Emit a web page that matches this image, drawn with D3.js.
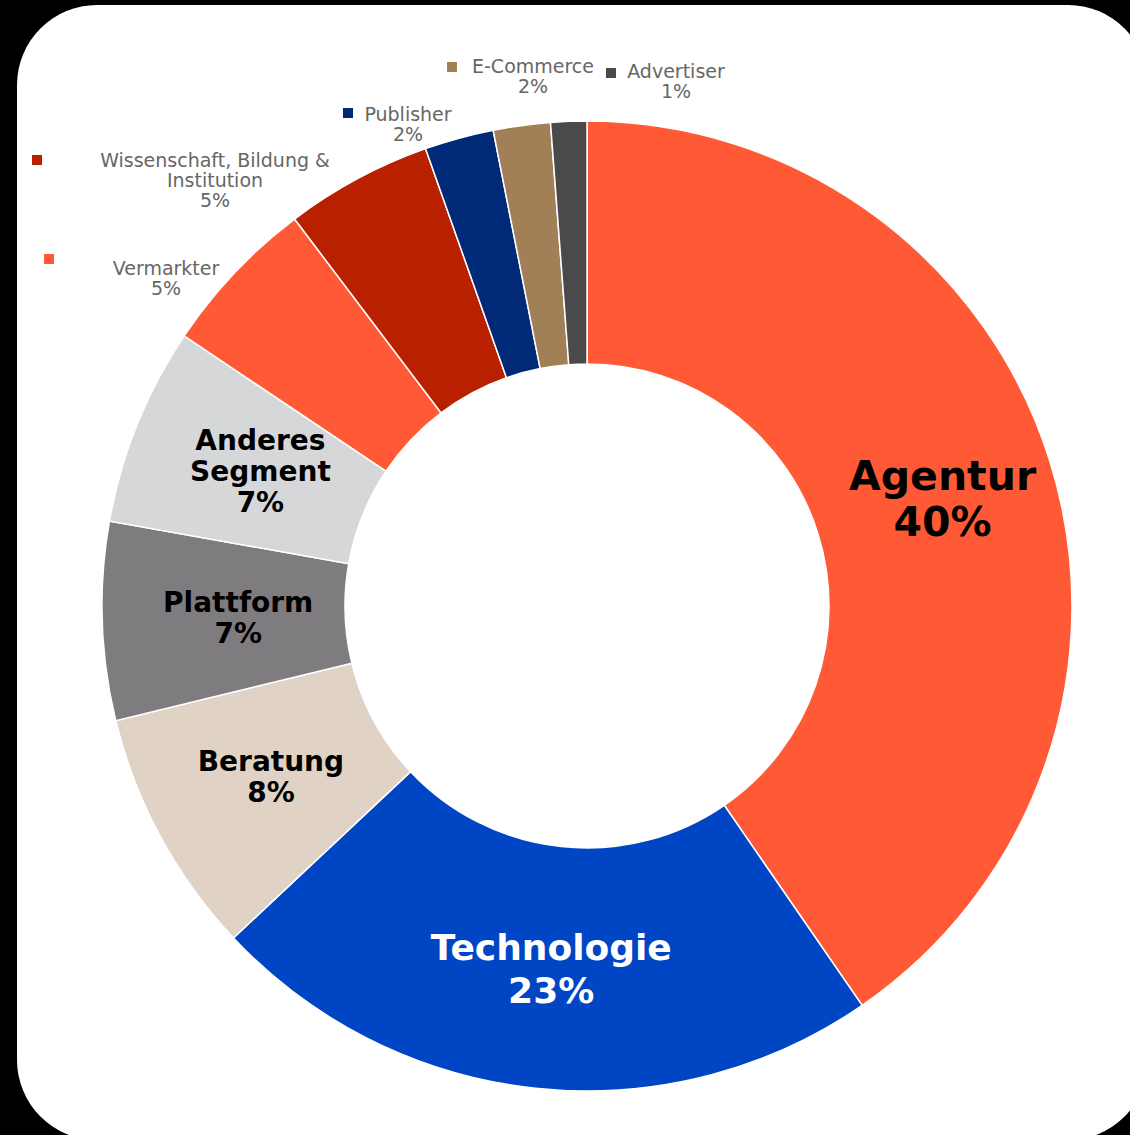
<!doctype html>
<html lang="de">
<head>
  <meta charset="utf-8">
  <title>Segmente</title>
  <style>
    * { margin: 0; padding: 0; box-sizing: border-box; }
    body { background: #000; }
    #chart { width: 1130px; height: 1135px; }
    .inlab { font-family: "DejaVu Sans", sans-serif; font-weight: bold; }
    .outlab { font-family: "DejaVu Sans", sans-serif; fill: #666; font-size: 19px; }
  </style>
</head>
<body>
  <div id="chart"></div>
  <script src="https://cdn.jsdelivr.net/npm/d3@7"></script>
  <script>
    // data, clockwise from 12 o'clock
    const segments = ['Agentur', 'Technologie', 'Beratung', 'Plattform', 'Anderes Segment',
      'Vermarkter', 'Wissenschaft, Bildung & Institution', 'Publisher', 'E-Commerce', 'Advertiser'];
    const shares = [40.4, 22.6, 8.2, 6.6, 6.6, 5.3, 4.9, 2.3, 1.9, 1.2];
    const colors = ['#ff5a35', '#0046c4', '#e0d3c5', '#7f7c7f', '#d6d7d9',
      '#ff5a35', '#b82000', '#002a78', '#a17f57', '#4a4a4a'];

    const W = 1130, H = 1135;
    const cx = 587, cy = 606, rOut = 485, rIn = 242;

    const svg = d3.select('#chart').append('svg').attr('width', W).attr('height', H);

    // white card
    svg.append('rect').attr('x', 17).attr('y', 5).attr('width', 1131).attr('height', 1135)
      .attr('rx', 80).attr('fill', '#fff');

    const pie = d3.pie().sort(null).value(d => d)(shares);
    const arc = d3.arc().innerRadius(rIn).outerRadius(rOut);
    const labArc = d3.arc().innerRadius(364).outerRadius(364);

    const g = svg.append('g').attr('transform', `translate(${cx},${cy})`);
    g.selectAll('path').data(pie).join('path')
      .attr('d', arc)
      .attr('fill', (d, i) => colors[i])
      .attr('stroke', '#fff').attr('stroke-width', 1.5);

    const pct = v => Math.round(v) + '%';

    // labels inside the ring (first five)
    const inside = [
      { lines: ['Agentur'], size: 41, lh: 46, fill: '#000', dx: 8, dy: 0 },
      { lines: ['Technologie'], size: 36, lh: 43, fill: '#fff', dx: 3, dy: 1 },
      { lines: ['Beratung'], size: 28, lh: 31, fill: '#000', dx: 4, dy: -3 },
      { lines: ['Plattform'], size: 28, lh: 31, fill: '#000', dx: 15, dy: 0 },
      { lines: ['Anderes', 'Segment'], size: 28, lh: 31, fill: '#000', dx: 11, dy: 1 }
    ];
    inside.forEach((o, i) => {
      const [x, y] = labArc.centroid(pie[i]);
      const lines = o.lines.concat(pct(shares[i]));
      const t = g.append('text').attr('class', 'inlab')
        .attr('text-anchor', 'middle')
        .attr('font-size', o.size).attr('fill', o.fill);
      const top = y + o.dy - (lines.length - 1) * o.lh / 2 + o.size * 0.36;
      lines.forEach((s, k) => {
        t.append('tspan').attr('x', x + o.dx).attr('y', top + k * o.lh).text(s);
      });
    });

    // outside legend-style labels
    const outside = [
      { i: 5, lines: ['Vermarkter'], tx: 166, ty: 275, mx: 44, my: 254 },
      { i: 6, lines: ['Wissenschaft, Bildung &', 'Institution'], tx: 215, ty: 167, mx: 32, my: 155 },
      { i: 7, lines: ['Publisher'], tx: 408, ty: 121, mx: 343, my: 108 },
      { i: 8, lines: ['E-Commerce'], tx: 533, ty: 73, mx: 447, my: 62 },
      { i: 9, lines: ['Advertiser'], tx: 676, ty: 78, mx: 606, my: 68 }
    ];
    outside.forEach(o => {
      svg.append('rect').attr('x', o.mx).attr('y', o.my).attr('width', 10).attr('height', 10)
        .attr('fill', colors[o.i]);
      const t = svg.append('text').attr('class', 'outlab').attr('text-anchor', 'middle');
      o.lines.concat(pct(shares[o.i])).forEach((s, k) => {
        t.append('tspan').attr('x', o.tx).attr('y', o.ty + k * 20).text(s);
      });
    });
  </script>
</body>
</html>
